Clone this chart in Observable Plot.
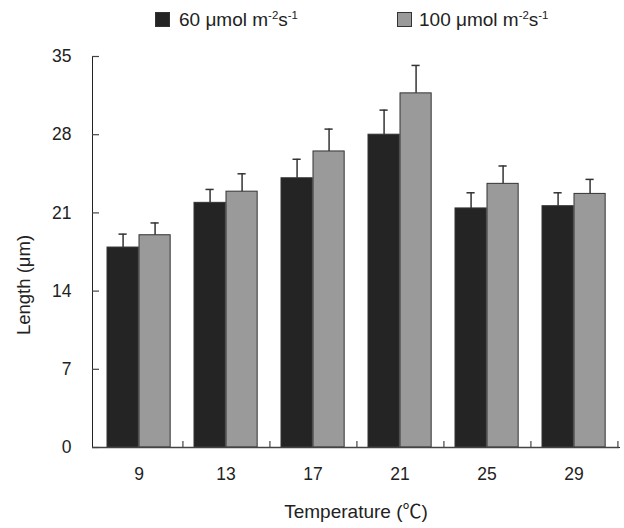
<!DOCTYPE html>
<html>
<head>
<meta charset="utf-8">
<script src="https://cdn.jsdelivr.net/npm/d3@7"></script>
<script src="https://cdn.jsdelivr.net/npm/@observablehq/plot@0.6"></script>
<style>
  html, body { margin: 0; padding: 0; background: #fff; }
  #wrap { position: relative; width: 624px; height: 528px; font-family: "Liberation Sans", Arial, sans-serif; color: #222; }
  #legend { position: relative; height: 40px; width: 624px; }
  .sw { position: absolute; top: 12px; width: 13px; height: 13px; border: 1px solid #333; }
  .lt { position: absolute; top: 9px; font-size: 19px; line-height: 22px; white-space: nowrap; }
  .lt sup { font-size: 0.6em; vertical-align: 0.6em; line-height: 0; }
  svg { display: block; }
</style>
</head>
<body>
<div id="wrap">
  <div id="legend"></div>
  <div id="chart"></div>
</div>
<script>
const temps = [9, 13, 17, 21, 25, 29];
const len60 = [17.9, 21.9, 24.1, 28.0, 21.4, 21.6];
const err60 = [1.2, 1.2, 1.7, 2.2, 1.4, 1.2];
const len100 = [19.0, 22.9, 26.5, 31.7, 23.6, 22.7];
const err100 = [1.1, 1.6, 2.0, 2.5, 1.6, 1.3];
const yTicks = [0, 7, 14, 21, 28, 35];
const seriesNames = ["60", "100"];
const seriesColors = ["#242424", "#9a9a9a"];

const rows60 = temps.map((t, i) => ({temp: t, value: len60[i], err: err60[i]}));
const rows100 = temps.map((t, i) => ({temp: t, value: len100[i], err: err100[i]}));

// legend
const legend = document.getElementById("legend");
const legendX = [{sw: 155, tx: 179}, {sw: 397, tx: 419}];
seriesNames.forEach((name, i) => {
  const s = document.createElement("div");
  s.className = "sw";
  s.style.left = legendX[i].sw + "px";
  s.style.background = seriesColors[i];
  legend.appendChild(s);
  const t = document.createElement("div");
  t.className = "lt";
  t.style.left = legendX[i].tx + "px";
  t.innerHTML = name + " μmol m<sup>-2</sup>s<sup>-1</sup>";
  legend.appendChild(t);
});

const W = 624, H = 488, mL = 92, mR = 5, mT = 16, mB = 81;
const frameW = W - mL - mR;
const frameH = H - mT - mB;
const bw = frameW / temps.length;

const chart = Plot.plot({
  width: W,
  height: H,
  marginLeft: mL,
  marginRight: mR,
  marginTop: mT,
  marginBottom: mB,
  style: {fontFamily: "'Liberation Sans', Arial, 'Noto Sans CJK SC', sans-serif", fontSize: "17.5px", color: "#222", background: "white"},
  x: {type: "band", domain: temps, paddingInner: 0, paddingOuter: 0, tickSize: 0, tickPadding: 20, line: true, label: null},
  y: {domain: [0, 35], ticks: yTicks, tickSize: 0, tickPadding: 21, line: true, label: null},
  marks: [
    Plot.barY(rows60, {x: "temp", y: "value", fill: seriesColors[0], stroke: "#333", strokeWidth: 1, insetLeft: 12, insetRight: bw - 44}),
    Plot.barY(rows100, {x: "temp", y: "value", fill: seriesColors[1], stroke: "#333", strokeWidth: 1, insetLeft: 44, insetRight: bw - 76}),
    Plot.ruleX(rows60, {x: "temp", y1: "value", y2: d => d.value + d.err, dx: 28 - bw / 2, stroke: "#333", strokeWidth: 1.5}),
    Plot.ruleX(rows100, {x: "temp", y1: "value", y2: d => d.value + d.err, dx: 60 - bw / 2, stroke: "#333", strokeWidth: 1.5}),
    Plot.tickY(rows60, {x: "temp", y: d => d.value + d.err, insetLeft: 23.5, insetRight: bw - 32.5, stroke: "#333", strokeWidth: 1.5}),
    Plot.tickY(rows100, {x: "temp", y: d => d.value + d.err, insetLeft: 55.5, insetRight: bw - 64.5, stroke: "#333", strokeWidth: 1.5}),
    Plot.tickY(yTicks, {y: d => d, insetRight: frameW - 7, stroke: "#444", strokeWidth: 1.2}),
    Plot.tickX(temps, {x: d => d, dx: bw / 2, insetTop: frameH - 6, stroke: "#444", strokeWidth: 1.2}),
    Plot.ruleY([0], {stroke: "#444", strokeWidth: 1.5}),
    Plot.text(["Temperature (℃)"], {frameAnchor: "bottom", textAnchor: "middle", dy: 70, fontSize: 19, fill: "#222"}),
    Plot.text(["Length (μm)"], {frameAnchor: "middle", textAnchor: "middle", dx: 24 - (mL + frameW / 2), dy: 33, rotate: -90, fontSize: 18.5, fill: "#222"})
  ]
});
document.getElementById("chart").appendChild(chart);
</script>
</body>
</html>
